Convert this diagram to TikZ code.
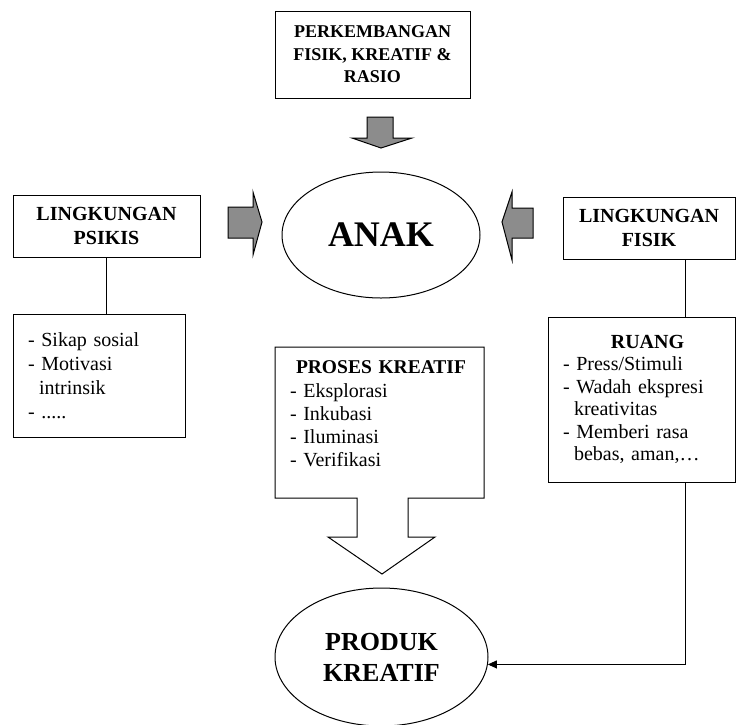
\documentclass[tikz,border=0pt]{standalone}
\usepackage{fontspec}
\setmainfont{Liberation Serif}
\usetikzlibrary{shapes.geometric,arrows.meta}
\definecolor{arrowgray}{RGB}{140,140,140}
\begin{document}
\begin{tikzpicture}[x=1pt,y=-1pt,
  box/.style={draw, line width=1pt, rectangle, inner sep=0pt, align=center},
  oval/.style={draw, line width=1pt, ellipse, inner sep=0pt, align=center},
  grayarrow/.style={draw, line width=1pt, fill=arrowgray, line join=miter},
  conn/.style={draw, line width=0.9pt},
  titlefont/.style={font=\bfseries\fontsize{20}{24}\selectfont},
  bodyfont/.style={font=\fontsize{20}{24}\selectfont}]
\useasboundingbox (0,0) rectangle (736,724);

% top box
\node[box, minimum width=195pt, minimum height=87pt,
      font=\bfseries\fontsize{18}{22.5}\selectfont] (perk) at (372.5,54.5)
  {PERKEMBANGAN\\FISIK, KREATIF \&\\RASIO};

% center ellipse
\node[oval, minimum width=198pt, minimum height=126pt,
      font=\bfseries\fontsize{36}{40}\selectfont] (anak) at (381,235) {ANAK};

% side boxes
\node[box, titlefont, minimum width=187pt, minimum height=62pt] (lpsikis) at (106.5,226)
  {LINGKUNGAN\\PSIKIS};
\node[box, titlefont, minimum width=172pt, minimum height=62pt] (lfisik) at (649,228)
  {LINGKUNGAN\\FISIK};

% gray block arrows
\path[grayarrow] (367,117) -- (393,117) -- (393,138) -- (412,138) -- (381,148)
  -- (352,138) -- (367,138) -- cycle;
\path[grayarrow] (228,207) -- (253,207) -- (253,192) -- (262,222) -- (253,255)
  -- (253,238) -- (228,238) -- cycle;
\path[grayarrow] (533,208) -- (512,208) -- (512,192) -- (502,222) -- (512,260)
  -- (512,238) -- (533,238) -- cycle;

% left lower box
\node[box, bodyfont, align=left, text width=142pt, minimum width=172pt,
      minimum height=123pt] (sikap) at (99,375.5)
  {- Sikap sosial\\- Motivasi\\\hspace*{11pt}intrinsik\\- .....};

% right lower box
\node[box, font=\fontsize{20}{22.5}\selectfont, align=left, text width=157pt,
      minimum width=187pt, minimum height=165pt] (ruang) at (641.5,399.5)
  {\makebox[157pt]{\hspace*{12pt}\bfseries RUANG}\\- Press/Stimuli\\- Wadah ekspresi\\\hspace*{11pt}kreativitas\\- Memberi rasa\\\hspace*{11pt}bebas, aman,\ldots};

% proses kreatif block arrow
\draw[line width=1pt, line join=miter] (275,347) -- (484,347) -- (484,498) -- (408,498)
  -- (408,537) -- (435,537) -- (382,574) -- (328,537) -- (357,537) -- (357,498)
  -- (275,498) -- cycle;
\node[inner sep=0pt, align=left, text width=190pt, font=\fontsize{20}{23.3}\selectfont]
  (proses) at (385,414)
  {\hspace*{6pt}{\bfseries\fontsize{19.5}{23.3}\selectfont PROSES KREATIF}\\- Eksplorasi\\- Inkubasi\\- Iluminasi\\- Verifikasi};

% product ellipse
\node[oval, minimum width=213pt, minimum height=138pt,
      font=\bfseries\fontsize{26}{31}\selectfont] (produk) at (381.5,657)
  {PRODUK\\KREATIF};

% connectors
\draw[conn] (lpsikis.south) -- (lpsikis.south |- sikap.north);
\draw[conn] ([xshift=36pt]lfisik.south) -- ([xshift=36pt]lfisik.south |- ruang.north);
\draw[conn, -{Triangle[length=9pt,width=8pt]}] ([xshift=43.5pt]ruang.south) |- (produk.-4.9);
\end{tikzpicture}
\end{document}
